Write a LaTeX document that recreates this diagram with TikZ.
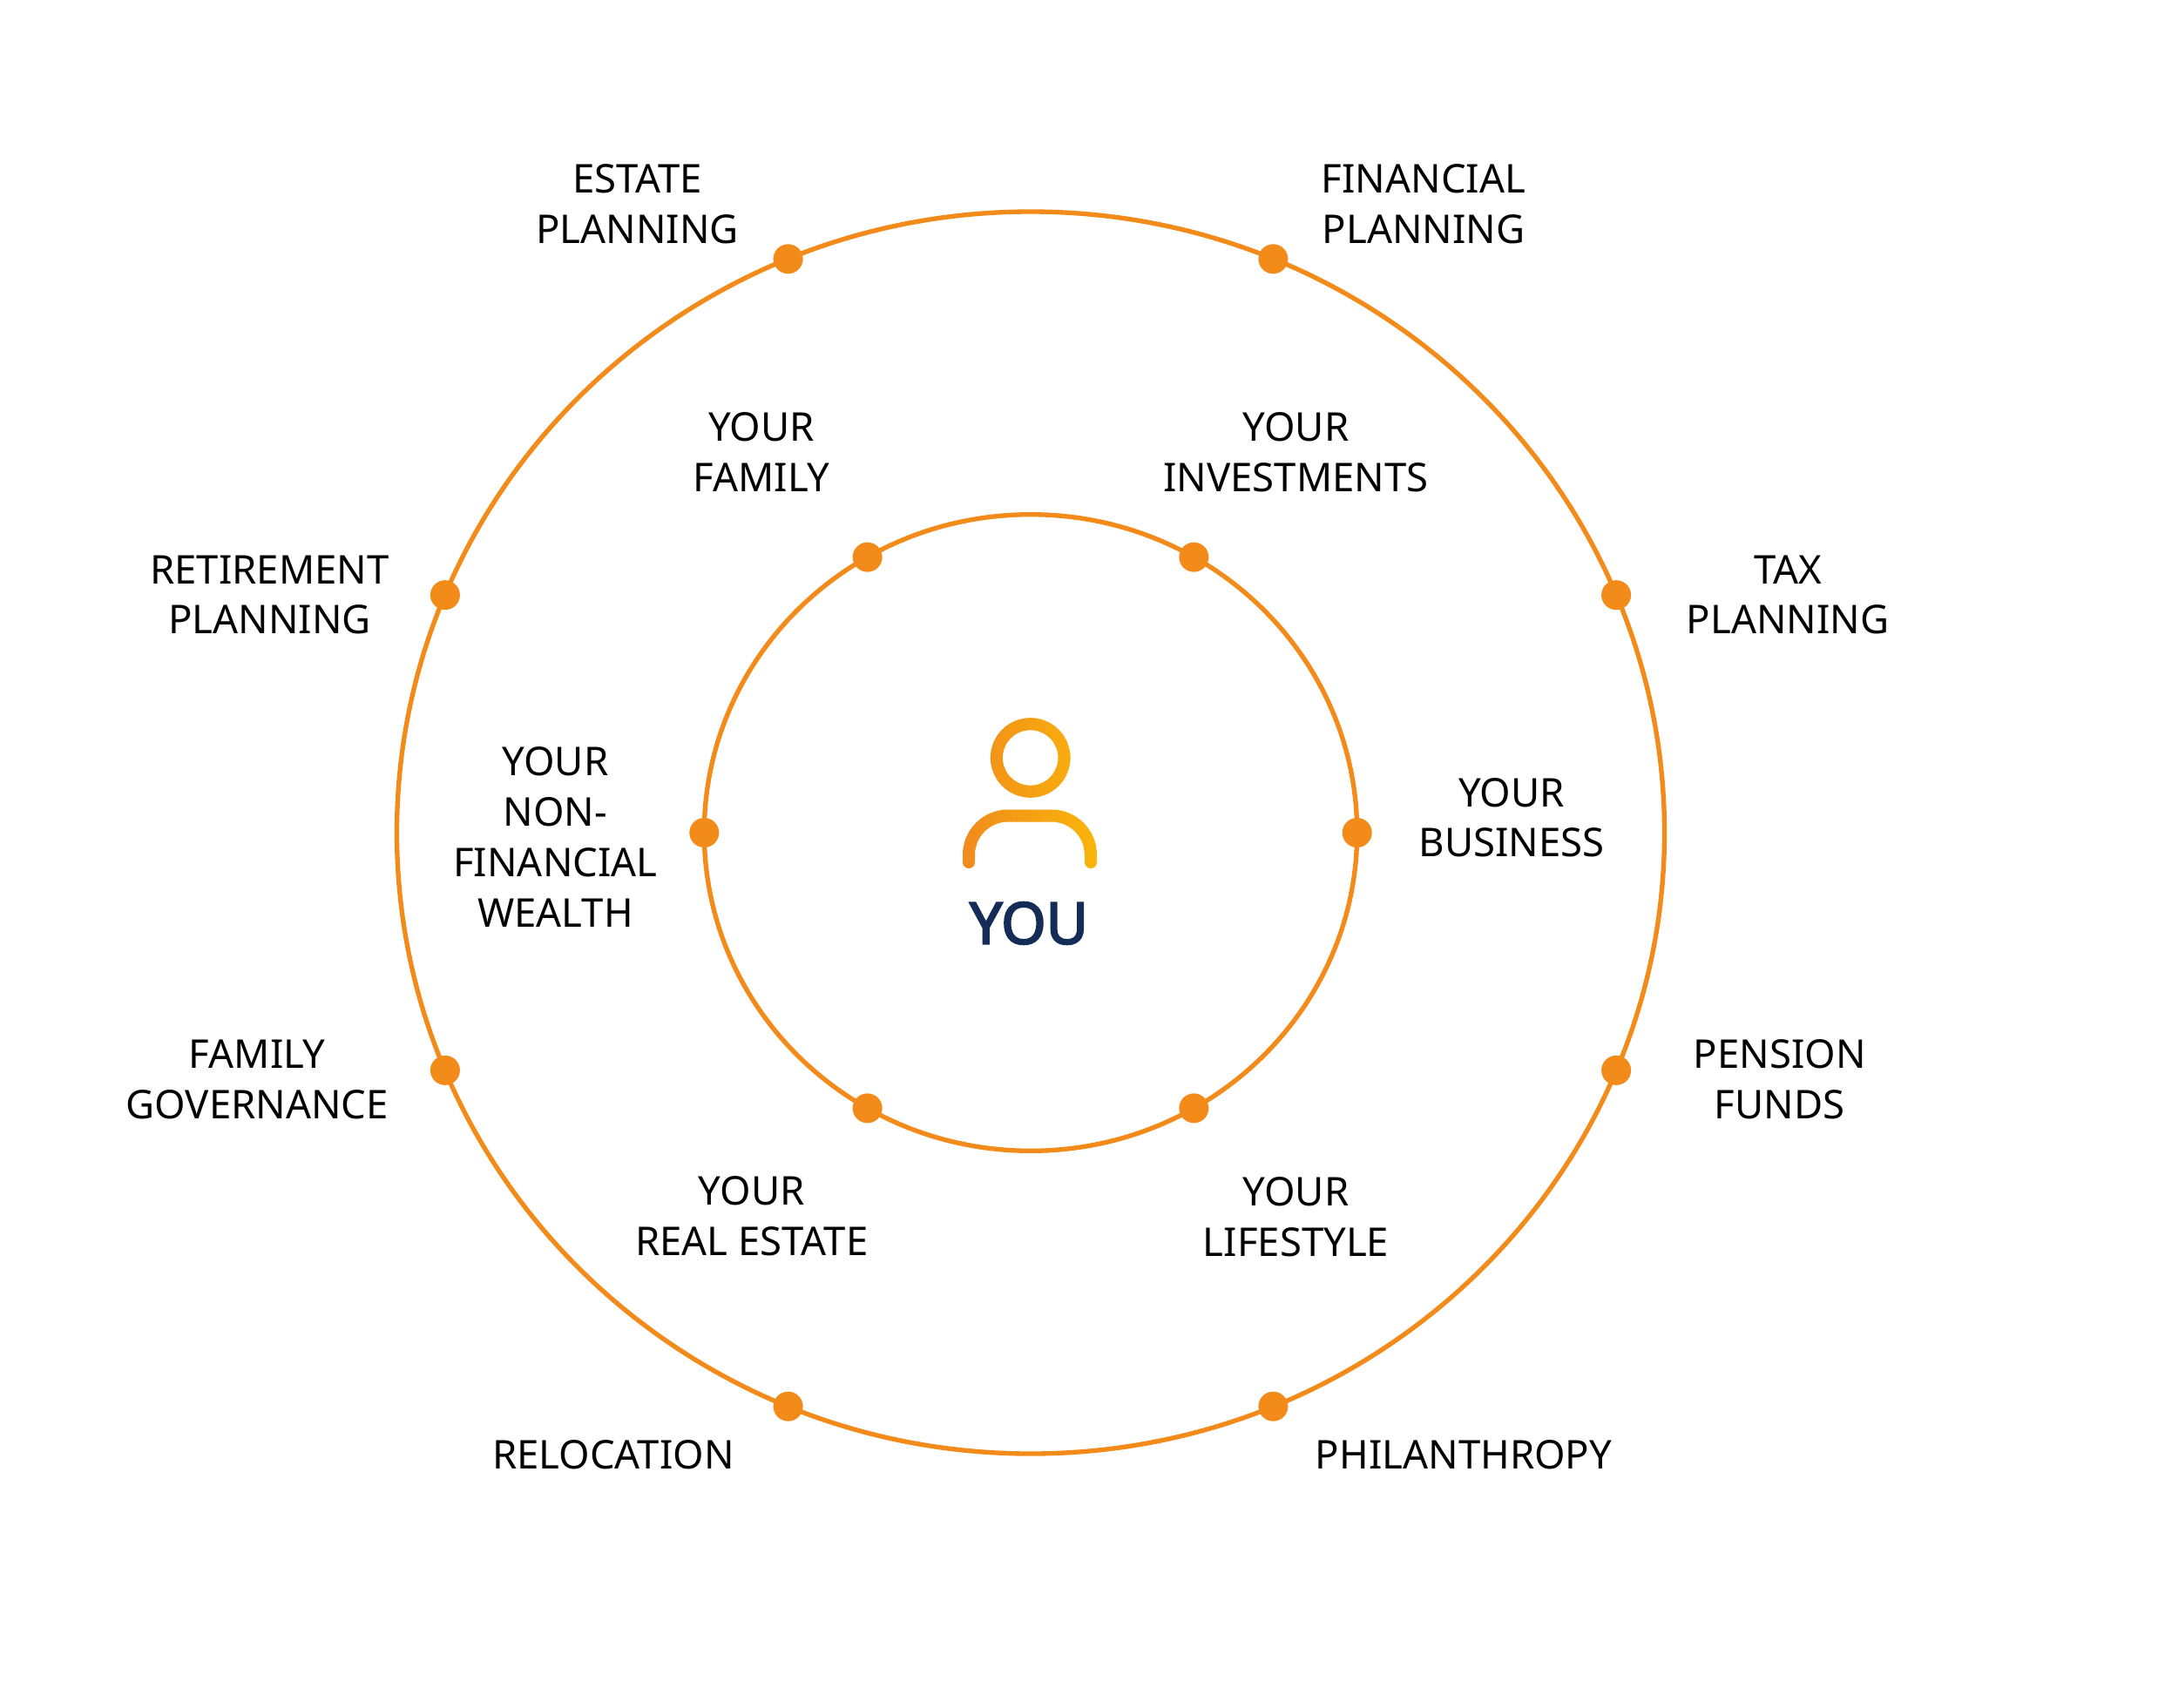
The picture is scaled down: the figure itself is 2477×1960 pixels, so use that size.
\documentclass[tikz,border=0pt]{standalone}
\usepackage{fontspec}
\setmainfont{Noto Sans}
\newfontfamily\youfont{Noto Sans}[FakeBold=3.2]
\definecolor{ring}{RGB}{242,139,25}
\definecolor{gradL}{RGB}{241,137,29}
\definecolor{gradR}{RGB}{250,182,9}
\definecolor{navy}{RGB}{21,44,86}
\begin{document}
\begin{tikzpicture}[x=0.3pt,y=-0.3pt,
  dot/.style={circle,fill=ring,inner sep=0pt,minimum size=10.2pt},
  lbl/.style={align=center,inner sep=0pt,font=\fontsize{13.65}{17.34}\selectfont,text=black},
  orbit/.style={draw=ring,line width=1.6pt},
  icon/.style={line width=4.2pt,line cap=round}]
\useasboundingbox (0,0) rectangle (2477,1960);
\fill[white] (0,0) rectangle (2477,1960);
\coordinate (c) at (1183,956);
% orbits
\draw[orbit] (c) ellipse [x radius=727.5, y radius=713];
\draw[orbit] (c) ellipse [x radius=374.7, y radius=365.3];
% outer dots
\foreach \a/\n in {22.5/o1,67.5/o2,112.5/o3,157.5/o4,202.5/o5,247.5/o6,292.5/o7,337.5/o8}
  \node[dot] (\n) at ({1183+727.5*cos(\a)},{956-713*sin(\a)}) {};
% inner dots
\foreach \a/\n in {0/i1,60/i2,120/i3,180/i4,240/i5,300/i6}
  \node[dot] (\n) at ({1183+374.7*cos(\a)},{956-365.3*sin(\a)}) {};
% person icon with horizontal gradient
\foreach \i in {0,...,39}{
  \pgfmathsetmacro\xa{1100+\i*4.125}
  \pgfmathtruncatemacro\p{100-(\i+0.5)*2.5}
  \begin{scope}
    \clip (\xa-0.4,800) rectangle (\xa+4.525,1010);
    \draw[icon,draw=gradL!\p!gradR] (1182.7,870) circle[radius=38.8];
    \draw[icon,draw=gradL!\p!gradR,rounded corners=13.5pt]
      (1112,990) -- (1112,936.5) -- (1252,936.5) -- (1252,990);
  \end{scope}
}
\node[inner sep=0pt,text=navy,font=\youfont\fontsize{19.8}{24}\selectfont] (you) at (1181,1060) {YOU};
% outer labels
\node[lbl] (estate) at (731.5,234.4) {ESTATE\\PLANNING};
\node[lbl] (financial) at (1634,234.4) {FINANCIAL\\PLANNING};
\node[lbl] (retirement) at (309.5,683) {RETIREMENT\\PLANNING};
\node[lbl] (tax) at (2052,683) {TAX\\PLANNING};
\node[lbl] (governance) at (295.3,1239) {FAMILY\\GOVERNANCE};
\node[lbl] (pension) at (2042.6,1239) {PENSION\\FUNDS};
\node[lbl] (relocation) at (703.8,1670.5) {RELOCATION};
\node[lbl] (philanthropy) at (1680,1670.5) {PHILANTHROPY};
% inner labels
\node[lbl] (family) at (874,519) {YOUR\\FAMILY};
\node[lbl] (investments) at (1487.5,519) {YOUR\\INVESTMENTS};
\node[lbl] (nonfin) at (637.5,961) {YOUR\\NON-\\FINANCIAL\\WEALTH};
\node[lbl] (business) at (1735,938.7) {YOUR\\BUSINESS};
\node[lbl] (realestate) at (862.8,1396.5) {YOUR\\REAL ESTATE};
\node[lbl] (lifestyle) at (1487.5,1397) {YOUR\\LIFESTYLE};
\end{tikzpicture}
\end{document}
